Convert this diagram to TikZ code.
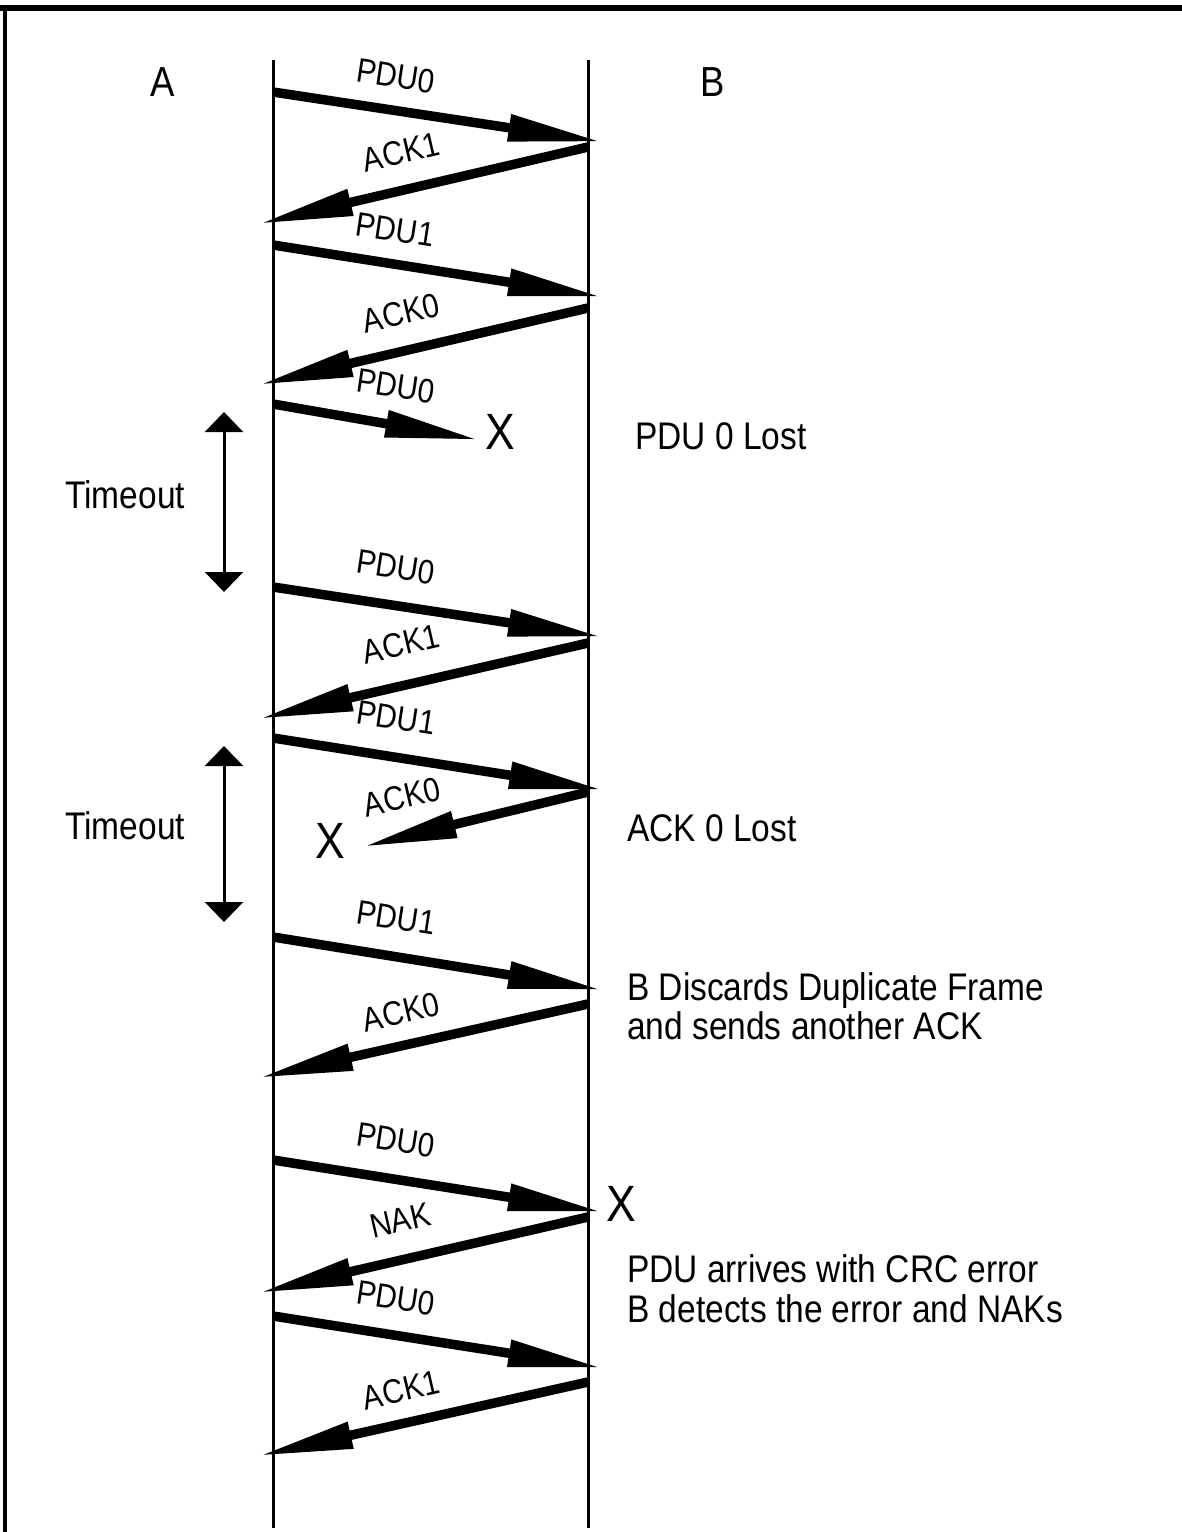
\documentclass[tikz,border=0pt]{standalone}
\usepackage{fontspec}
\setmainfont{Liberation Sans}[FakeStretch=0.87]
\usetikzlibrary{arrows.meta}
\begin{document}
\begin{tikzpicture}[x=1pt,y=-1pt,
  msg/.style={line width=9.5pt,-{Triangle[length=95pt,width=25pt]}},
  life/.style={line width=3pt},
  tmo/.style={line width=3pt,{Triangle[length=20pt,width=38pt]}-{Triangle[length=20pt,width=38pt]}},
  lbl/.style={font=\fontsize{34}{34}\selectfont,inner sep=0pt},
  txt/.style={font=\fontsize{38.5}{40}\selectfont,inner sep=0pt,anchor=base west},
  big/.style={font=\fontsize{42}{44}\selectfont,inner sep=0pt,anchor=base},
  xmark/.style={font=\fontsize{51}{52}\selectfont,inner sep=0pt,anchor=base}]
\useasboundingbox (0,0) rectangle (1182,1532);
% frame
\draw[line width=6pt] (0,8) -- (1182,8);
\draw[line width=4pt] (5,5) -- (5,1532);
% lifelines
\coordinate (Atop) at (273,60); \coordinate (Abot) at (273,1528);
\coordinate (Btop) at (588,60); \coordinate (Bbot) at (588,1528);
\draw[life] (Atop) -- (Abot);
\draw[life] (Btop) -- (Bbot);
\node[big] (A) at (163,96) {A};
\node[big] (B) at (713,96) {B};
% message end points
\coordinate (s1) at (273,92);   \coordinate (e1) at (603,142);
\coordinate (s2) at (588,147);  \coordinate (e2) at (258,224);
\coordinate (s3) at (273,245);  \coordinate (e3) at (603,297);
\coordinate (s4) at (588,308);  \coordinate (e4) at (258,385);
\coordinate (s5) at (273,404);  \coordinate (e5) at (480,440);
\coordinate (s6) at (273,587);  \coordinate (e6) at (603,637);
\coordinate (s7) at (588,643);  \coordinate (e7) at (258,719);
\coordinate (s8) at (273,738);  \coordinate (e8) at (604,790);
\coordinate (s9) at (588,792);  \coordinate (e9) at (362,847);
\coordinate (s10) at (273,937); \coordinate (e10) at (603,990);
\coordinate (s11) at (588,1004);\coordinate (e11) at (258,1078);
\coordinate (s12) at (273,1160);\coordinate (e12) at (603,1212);
\coordinate (s13) at (588,1217);\coordinate (e13) at (258,1293);
\coordinate (s14) at (273,1316);\coordinate (e14) at (603,1368);
\coordinate (s15) at (588,1382);\coordinate (e15) at (258,1456);
\foreach \i in {1,...,15} {\draw[msg] (s\i) -- (e\i);}
% labels
\node[lbl,rotate=-8.6] (l1) at (396,76) {PDU0};
\node[lbl,rotate=13] (l2) at (401,152) {ACK1};
\node[lbl,rotate=-8.6] (l3) at (395,230) {PDU1};
\node[lbl,rotate=13] (l4) at (401,313) {ACK0};
\node[lbl,rotate=-8.6] (l5) at (396,386) {PDU0};
\node[lbl,rotate=-8.6] (l6) at (396,567) {PDU0};
\node[lbl,rotate=13] (l7) at (401,644) {ACK1};
\node[lbl,rotate=-8.6] (l8) at (396,718) {PDU1};
\node[lbl,rotate=13] (l9) at (402,797) {ACK0};
\node[lbl,rotate=-8.6] (l10) at (396,918) {PDU1};
\node[lbl,rotate=13] (l11) at (401,1012) {ACK0};
\node[lbl,rotate=-8.6] (l12) at (396,1140) {PDU0};
\node[lbl,rotate=13] (l13) at (400,1220) {NAK};
\node[lbl,rotate=-8.6] (l14) at (396,1298) {PDU0};
\node[lbl,rotate=13] (l15) at (401,1390) {ACK1};
% X marks
\node[xmark] (x1) at (500,449) {X};
\node[xmark] (x2) at (330,858) {X};
\node[xmark] (x3) at (621,1221) {X};
% timeouts
\coordinate (t1a) at (224,412); \coordinate (t1b) at (224,592);
\coordinate (t2a) at (224,746); \coordinate (t2b) at (224,922);
\draw[tmo] (t1a) -- (t1b);
\draw[tmo] (t2a) -- (t2b);
\node[txt] (to1) at (65,508) {Timeout};
\node[txt] (to2) at (65,839) {Timeout};
% notes
\node[txt] (n1) at (635,449) {PDU 0 Lost};
\node[txt] (n2) at (627,841) {ACK 0 Lost};
\node[txt] (n3) at (627,1000) {B Discards Duplicate Frame};
\node[txt] (n4) at (627,1039) {and sends another ACK};
\node[txt] (n5) at (627,1282) {PDU arrives with CRC error};
\node[txt] (n6) at (627,1322) {B detects the error and NAKs};
\end{tikzpicture}
\end{document}
